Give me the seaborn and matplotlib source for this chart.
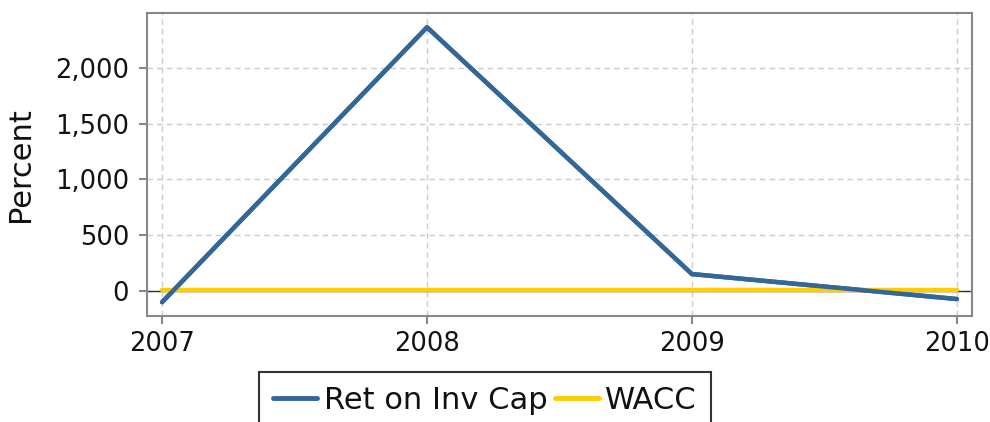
import matplotlib
matplotlib.use("Agg")
import matplotlib.pyplot as plt
from matplotlib.lines import Line2D
import seaborn as sns
import pandas as pd

years = [2007, 2008, 2009, 2010]
ret_on_inv_cap = [-100, 2365, 152, -72]
wacc = [8, 8, 8, 8]

df = pd.DataFrame({
    'Year': years * 2,
    'Percent': ret_on_inv_cap + wacc,
    'Series': ['Ret on Inv Cap'] * 4 + ['WACC'] * 4,
})

sns.set_style("white")
plt.rcParams['font.family'] = ['DejaVu Sans']

fig = plt.figure(figsize=(9.9, 4.22), dpi=100)
ax = fig.add_axes([147 / 990, 1 - 316 / 422, (972 - 147) / 990, (316 - 13) / 422])

ax.axhline(0, color='#333333', lw=1.0, zorder=1)
sns.lineplot(data=df, x='Year', y='Percent', hue='Series',
             palette=['#336699', '#ffcc00'], linewidth=3.2, ax=ax, legend=False, zorder=3)
# redraw so the blue line sits on top of the yellow one
sns.lineplot(x=years, y=ret_on_inv_cap, color='#336699', linewidth=3.2, ax=ax, zorder=4)

ax.set_xlim(2006.943, 2010.057)
ax.set_ylim(-224, 2493)
ax.set_xticks(years)
ax.set_xticklabels([str(y) for y in years])
ax.set_yticks([0, 500, 1000, 1500, 2000])
ax.set_yticklabels(['0', '500', '1,000', '1,500', '2,000'])
ax.grid(True, color='#cccccc', linestyle=(0, (4, 3)), linewidth=1)
ax.set_axisbelow(True)

for s in ax.spines.values():
    s.set_color('#888888')
    s.set_linewidth(1.5)

ax.tick_params(axis='both', which='major', bottom=True, left=True, direction='out',
               length=6, color='#888888', width=1.5, labelsize=18.5, labelcolor='#111111')
ax.tick_params(axis='y', pad=7)
ax.tick_params(axis='x', pad=5)
ax.set_xlabel('')
ax.set_ylabel('Percent', fontsize=22, labelpad=14, color='#111111')

handles = [Line2D([], [], color='#336699', lw=3.5), Line2D([], [], color='#ffcc00', lw=3.5)]
leg = fig.legend(handles, ['Ret on Inv Cap', 'WACC'], loc='upper center',
                 bbox_to_anchor=(485 / 990, 1 - 372 / 422), ncol=2, fontsize=22,
                 frameon=True, fancybox=False, edgecolor='black', handlelength=1.45,
                 columnspacing=0.25, handletextpad=0.2, borderpad=0.45,
                 borderaxespad=0)
leg.get_frame().set_linewidth(1.5)
for t in leg.get_texts():
    t.set_color('#111111')

fig.savefig('out.png', dpi=100)
